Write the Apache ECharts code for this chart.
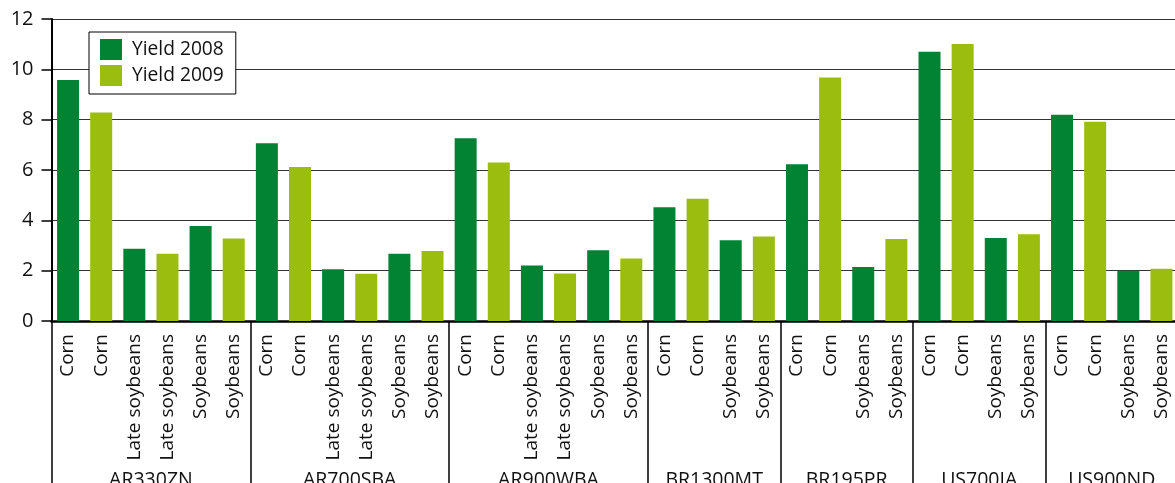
<!DOCTYPE html>
<html>
<head>
<meta charset="utf-8">
<script src="https://cdn.jsdelivr.net/npm/echarts@6/dist/echarts.min.js"></script>
<style>
html,body{margin:0;padding:0;background:#fff;}
#chart{width:1175px;height:483px;}
</style>
</head>
<body>
<div id="chart"></div>
<script>
const sites = ['AR330ZN','AR700SBA','AR900WBA','BR1300MT','BR195PR','US700IA','US900ND'];
const siteSizes = [6,6,6,4,4,4,4];
const crops = [
  'Corn','Corn','Late soybeans','Late soybeans','Soybeans','Soybeans',
  'Corn','Corn','Late soybeans','Late soybeans','Soybeans','Soybeans',
  'Corn','Corn','Late soybeans','Late soybeans','Soybeans','Soybeans',
  'Corn','Corn','Soybeans','Soybeans',
  'Corn','Corn','Soybeans','Soybeans',
  'Corn','Corn','Soybeans','Soybeans',
  'Corn','Corn','Soybeans','Soybeans'
];
const yield2008 = [
  9.58,null,2.87,null,3.77,null,
  7.06,null,2.06,null,2.67,null,
  7.26,null,2.21,null,2.81,null,
  4.52,null,3.21,null,
  6.23,null,2.15,null,
  10.70,null,3.30,null,
  8.20,null,2.00,null
];
const yield2009 = [
  null,8.28,null,2.67,null,3.28,
  null,6.12,null,1.88,null,2.78,
  null,6.30,null,1.89,null,2.48,
  null,4.86,null,3.36,
  null,9.68,null,3.26,
  null,11.01,null,3.45,
  null,7.92,null,2.08
];
const yTicks = [0,2,4,6,8,10,12];

// group axis: points at bar boundaries (0..N)
const groupAxisData = new Array(crops.length + 1).fill('');
const boundaries = [0];
let pos = 0;
siteSizes.forEach((n, i) => {
  groupAxisData[pos + n / 2] = sites[i];
  pos += n;
  boundaries.push(pos);
});

const FONT = '"Open Sans", "Noto Sans", sans-serif';
const chart = echarts.init(document.getElementById('chart'), null, {renderer: 'canvas'});
chart.setOption({
  animation: false,
  backgroundColor: '#fff',
  textStyle: {fontFamily: FONT},
  grid: {left: 51.5, right: -3, top: 19, bottom: 162, containLabel: false, outerBoundsMode: 'none'},
  legend: {
    orient: 'vertical',
    left: 89, top: 32,
    padding: [7, 12, 8, 11],
    itemWidth: 22, itemHeight: 21, itemGap: 5,
    borderColor: '#000', borderWidth: 1,
    backgroundColor: '#fff',
    icon: 'rect',
    textStyle: {fontSize: 19.2, color: '#111', fontFamily: FONT, padding: [0, 0, 0, 5]},
    data: ['Yield 2008', 'Yield 2009']
  },
  xAxis: [
    {
      type: 'category',
      data: crops,
      boundaryGap: true,
      axisLine: {lineStyle: {color: '#000', width: 2.5}},
      axisTick: {alignWithLabel: true, length: 8, lineStyle: {color: '#000', width: 1.5}},
      axisLabel: {rotate: 90, interval: 0, margin: 13, fontSize: 19, color: '#111', fontFamily: FONT},
      splitLine: {show: false}
    },
    {
      type: 'category',
      data: groupAxisData,
      boundaryGap: false,
      position: 'bottom',
      axisLine: {show: false},
      axisTick: {
        show: true,
        length: 170,
        interval: (idx) => boundaries.includes(idx),
        lineStyle: {color: '#000', width: 1.5}
      },
      axisLabel: {interval: 0, margin: 149, fontSize: 19.5, color: '#111', fontFamily: FONT},
      splitLine: {show: false}
    }
  ],
  yAxis: {
    type: 'value',
    min: yTicks[0], max: yTicks[yTicks.length - 1], interval: 2,
    axisLine: {show: true, lineStyle: {color: '#000', width: 2}},
    axisTick: {show: true, length: 10, lineStyle: {color: '#000', width: 1.5}},
    axisLabel: {fontSize: 20, color: '#111', margin: 18, fontFamily: FONT},
    splitLine: {lineStyle: {color: '#333', width: 1.2}}
  },
  series: [
    {
      name: 'Yield 2008', type: 'bar', xAxisIndex: 0,
      data: yield2008, barWidth: 22, barGap: '-100%',
      itemStyle: {color: '#028233'}
    },
    {
      name: 'Yield 2009', type: 'bar', xAxisIndex: 0,
      data: yield2009, barWidth: 22, barGap: '-100%',
      itemStyle: {color: '#9bbd0f'}
    }
  ]
});
</script>
</body>
</html>
